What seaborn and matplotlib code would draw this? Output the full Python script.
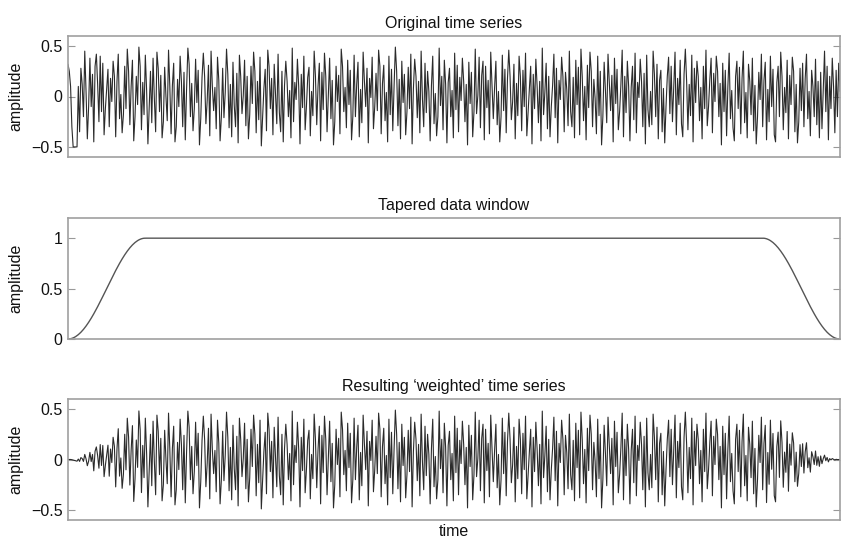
import numpy as np
import matplotlib
matplotlib.use("Agg")
import matplotlib.pyplot as plt
import seaborn as sns

# original noise series (600 samples)
original = [
    0.32, 0.25, 0.1, -0.3, -0.5, -0.5, -0.5, -0.5, 0.1, -0.35, 0.28, 0.12, -0.2, 0.45, 0.05, -0.42, -0.1, 0.38, -0.1, 0.22,
    -0.45, 0.3, 0.42, 0.12, -0.25, 0.4, -0.15, 0.33, -0.38, -0.12, 0.08, 0.27, -0.3, 0.18, -0.05, 0.35, 0.2, -0.4, 0.15, 0.42,
    -0.22, 0.02, -0.36, -0.18, 0.3, -0.12, 0.47, 0.25, -0.28, 0.1, 0.36, -0.44, -0.2, 0.2, -0.08, 0.49, 0.3, -0.33, 0.14, -0.18,
    0.41, 0.06, -0.47, -0.1, 0.25, -0.26, 0.38, -0.02, -0.35, 0.44, 0.28, -0.15, 0.21, -0.41, -0.25, 0.29, 0.0, -0.24, 0.46, 0.1,
    -0.37, 0.11, 0.33, -0.45, -0.3, 0.17, -0.1, 0.4, 0.15, -0.3, 0.24, -0.43, 0.07, 0.48, 0.32, -0.2, 0.13, -0.34, -0.12, 0.37,
    -0.06, 0.26, -0.48, -0.22, 0.19, 0.43, 0.2, -0.27, -0.04, 0.31, -0.39, 0.45, 0.1, -0.14, 0.09, -0.32, 0.39, 0.16, -0.44, -0.2,
    0.28, -0.21, 0.04, 0.47, 0.22, -0.31, 0.12, -0.4, 0.34, -0.09, -0.3, 0.23, -0.46, 0.41, 0.2, -0.17, 0.01, 0.36, -0.29, 0.2,
    -0.42, -0.18, 0.3, -0.07, 0.44, 0.25, -0.36, 0.15, -0.23, 0.39, -0.49, -0.2, 0.08, 0.27, -0.34, 0.46, 0.3, -0.12, 0.18, -0.38,
    0.32, 0.03, -0.27, 0.42, -0.16, -0.35, 0.25, -0.45, 0.11, 0.35, 0.15, -0.2, 0.06, -0.41, 0.48, -0.25, 0.14, -0.03, 0.37, 0.1,
    -0.47, 0.22, -0.11, 0.4, -0.33, -0.1, 0.19, 0.29, -0.39, 0.05, -0.19, 0.45, 0.2, -0.28, 0.1, 0.33, -0.44, 0.24, -0.13, 0.43,
    0.2, -0.35, 0.02, 0.38, -0.22, 0.16, -0.48, -0.25, 0.3, -0.05, 0.21, -0.37, 0.47, 0.3, -0.15, 0.09, -0.31, 0.36, -0.08, 0.26,
    -0.43, -0.2, 0.41, -0.2, 0.12, 0.34, -0.4, 0.07, -0.26, 0.44, 0.15, -0.1, 0.28, -0.46, 0.18, -0.01, 0.39, -0.32, -0.1, 0.23,
    -0.14, 0.46, 0.3, -0.37, 0.13, 0.31, -0.24, 0.04, -0.45, 0.4, -0.18, 0.27, -0.34, 0.1, 0.49, 0.25, -0.29, 0.17, -0.42, 0.35,
    -0.06, 0.22, -0.38, -0.15, 0.29, -0.12, 0.42, -0.47, 0.08, 0.37, 0.2, -0.21, 0.15, -0.36, 0.45, -0.02, -0.3, 0.33, -0.16, 0.25,
    0.05, -0.44, 0.11, 0.4, -0.27, 0.03, -0.39, -0.2, 0.48, -0.09, 0.2, -0.33, 0.36, 0.12, -0.46, 0.14, 0.28, -0.2, 0.06, -0.41,
    0.43, -0.13, 0.31, -0.35, 0.19, -0.04, 0.38, 0.15, -0.25, 0.12, -0.48, 0.34, -0.07, 0.24, -0.4, -0.15, 0.47, -0.17, 0.01, 0.39,
    -0.31, 0.21, 0.35, -0.43, 0.3, -0.11, 0.16, -0.37, 0.44, 0.1, -0.22, 0.09, 0.35, -0.28, 0.05, -0.45, -0.2, 0.41, -0.14, 0.27,
    -0.36, 0.18, 0.46, 0.2, -0.23, -0.05, 0.32, -0.42, 0.13, -0.19, 0.4, 0.2, -0.34, 0.26, -0.1, 0.43, -0.39, -0.15, 0.08, 0.3,
    -0.47, 0.22, -0.12, 0.37, 0.1, -0.26, 0.15, -0.44, 0.48, -0.18, 0.04, 0.33, -0.32, 0.2, -0.4, -0.1, 0.11, 0.42, -0.21, 0.28,
    -0.46, 0.16, -0.03, 0.39, 0.2, -0.35, 0.24, 0.07, -0.29, 0.45, -0.15, -0.3, 0.19, -0.41, 0.36, -0.08, 0.29, -0.38, 0.47, 0.2,
    -0.24, 0.1, -0.43, 0.31, -0.11, 0.44, 0.25, -0.3, 0.17, -0.02, -0.37, 0.4, -0.19, 0.25, -0.48, -0.2, 0.34, 0.06, -0.26, 0.42,
    0.15, -0.14, 0.21, -0.45, 0.38, -0.07, 0.27, -0.33, -0.15, 0.12, 0.46, -0.4, 0.2, -0.16, 0.35, 0.1, -0.44, 0.09, 0.3, -0.23,
    0.43, -0.36, 0.14, -0.01, 0.37, 0.15, -0.3, 0.23, -0.47, 0.41, -0.13, -0.3, 0.05, -0.28, 0.45, 0.22, -0.2, 0.32, -0.42, 0.16,
    0.26, -0.35, 0.08, -0.46, -0.1, 0.2, 0.39, -0.17, 0.3, -0.25, 0.1, 0.44, -0.38, 0.18, -0.08, 0.36, -0.27, -0.4, 0.22, 0.47,
    0.15, -0.33, 0.12, -0.19, 0.41, -0.45, 0.28, -0.06, 0.35, 0.2, -0.24, 0.09, -0.42, 0.3, -0.12, 0.46, -0.29, -0.1, 0.17, 0.38,
    -0.36, 0.23, -0.05, 0.4, 0.25, -0.2, 0.13, -0.48, 0.33, -0.15, 0.26, -0.39, 0.1, 0.43, -0.22, 0.06, -0.31, -0.44, 0.2, 0.35,
    -0.12, 0.29, -0.37, 0.18, 0.45, -0.26, 0.04, -0.41, 0.32, 0.15, -0.18, 0.38, -0.34, 0.11, -0.47, -0.2, 0.24, -0.03, 0.42, -0.3,
    0.16, 0.34, -0.43, 0.07, -0.25, 0.4, -0.1, 0.27, -0.38, -0.45, 0.14, 0.3, -0.2, 0.44, 0.2, -0.33, 0.09, -0.16, 0.36, -0.42,
    0.21, -0.08, 0.39, 0.25, -0.35, 0.12, -0.46, -0.25, 0.28, -0.14, 0.33, -0.3, 0.18, 0.42, -0.22, 0.05, -0.39, 0.26, 0.1, -0.2,
    0.37, -0.28, 0.15, -0.41, 0.24, -0.32, 0.08, 0.45, -0.15, 0.3, -0.43, 0.2, -0.12, 0.38, 0.1, -0.36, 0.26, -0.2, 0.33, 0.05,
]

# cosine taper at the start of the window (60 samples), mirrored at the end
taper = [
    0.0, 0.00069, 0.00274, 0.00616, 0.01093, 0.01704, 0.02447, 0.03321, 0.04323, 0.05450,
    0.06699, 0.08066, 0.09549, 0.11143, 0.12843, 0.14645, 0.16543, 0.18534, 0.20611, 0.22768,
    0.25, 0.27300, 0.29663, 0.32082, 0.34549, 0.37059, 0.39604, 0.42178, 0.44774, 0.47383,
    0.5, 0.52617, 0.55226, 0.57822, 0.60396, 0.62941, 0.65451, 0.67918, 0.70337, 0.72700,
    0.75, 0.77232, 0.79389, 0.81466, 0.83457, 0.85355, 0.87157, 0.88857, 0.90451, 0.91934,
    0.93301, 0.94550, 0.95677, 0.96679, 0.97553, 0.98296, 0.98907, 0.99384, 0.99726, 0.99931,
]
window = taper + [1.0] * (len(original) - 2 * len(taper)) + taper[::-1]

titles = ["Original time series", "Tapered data window", "Resulting \u2018weighted\u2019 time series"]

t = np.arange(len(original))
weighted = np.array(original) * np.array(window)

sns.set_theme(style="white")
plt.rcParams["font.family"] = ["Liberation Sans", "DejaVu Sans"]

fig = plt.figure(figsize=(8.42, 5.45), dpi=100)
W, H = 842, 545
boxes = [(36, 157), (218, 339), (399, 520)]
axes = []
for top, bottom in boxes:
    ax = fig.add_axes([68 / W, 1 - bottom / H, (840 - 68) / W, (bottom - top) / H])
    axes.append(ax)

series = [original, window, weighted]
colors = ["#2b2b2b", "#555555", "#2b2b2b"]
widths = [0.8, 1.0, 0.8]
for ax, y, c, lw, title in zip(axes, series, colors, widths, titles):
    sns.lineplot(x=t, y=y, ax=ax, color=c, linewidth=lw, estimator=None, errorbar=None)
    ax.set_xlim(t[0], t[-1])
    ax.set_xticks([])
    ax.set_title(title, fontsize=11.5, color="#111111", pad=6)
    ax.set_ylabel("amplitude", fontsize=11.5, color="#111111")
    ax.yaxis.set_label_coords(-0.058, 0.5)
    ax.tick_params(axis="y", direction="in", length=5, width=0.8, color="#999999",
                   labelsize=11.5, labelcolor="#111111", left=True, right=True, pad=4)
    for sp in ax.spines.values():
        sp.set_color("#a0a0a0")
        sp.set_linewidth(1.2)

for ax in (axes[0], axes[2]):
    ax.set_ylim(-0.6, 0.6)
    ax.set_yticks([-0.5, 0, 0.5])
    ax.set_yticklabels(["\u22120.5", "0", "0.5"])
axes[1].set_ylim(0, 1.2)
axes[1].set_yticks([0, 0.5, 1])
axes[1].set_yticklabels(["0", "0.5", "1"])

axes[2].set_xlabel("time", fontsize=11.5, color="#111111", labelpad=3)

fig.savefig("out.png", dpi=100)
